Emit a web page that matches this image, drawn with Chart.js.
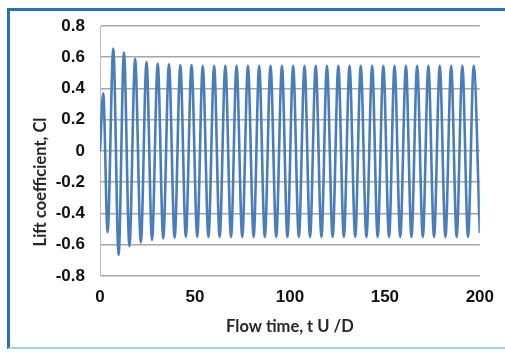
<!DOCTYPE html>
<html>
<head>
<meta charset="utf-8">
<script src="https://cdn.jsdelivr.net/npm/chart.js@4.4.0/dist/chart.umd.min.js"></script>
<style>
  html, body { margin: 0; padding: 0; background: #fff; }
  #wrap { position: relative; width: 505px; height: 352px; }
  #frame {
    position: absolute; left: 7px; top: 8px; width: 498px; height: 341px;
    border-top: 3px solid #2a72b5; border-left: 3px solid #2a72b5;
    border-bottom: 2px solid #a3d4dc; box-sizing: border-box; pointer-events: none;
  }
</style>
</head>
<body>
<div id="wrap">
  <canvas id="liftChart" width="505" height="352"></canvas>
  <div id="frame"></div>
</div>
<script>
// flow time (t U/D) at the extremes of the signal
const flowTime = [
  0, 1.7, 4.0, 7.0, 9.8, 12.6, 15.5, 18.5, 21.5, 24.5, 27.4, 30.4, 33.3,
  36.3, 39.3, 42.3, 45.2, 48.2, 51.2, 54.1, 57.1, 60.1, 63.0, 66.0, 69.0,
  71.9, 74.9, 77.9, 80.9, 83.8, 86.8, 89.8, 92.8, 95.8, 98.7, 101.7, 104.7,
  107.7, 110.6, 113.6, 116.6, 119.5, 122.5, 125.5, 128.4, 131.4, 134.4,
  137.3, 140.3, 143.3, 146.2, 149.2, 152.2, 155.1, 158.1, 161.1, 164.0,
  167.0, 170.0, 172.9, 175.9, 178.9, 181.9, 184.9, 187.8, 190.8, 193.8,
  196.8, 200
];
// lift coefficient at those times
const liftCoeff = [
  0, 0.37, -0.52, 0.655, -0.665, 0.63, -0.61, 0.59, -0.585, 0.57, -0.57, 0.56, -0.56,
  0.555, -0.555, 0.55, -0.55, 0.55, -0.55, 0.545, -0.55, 0.545, -0.55, 0.545, -0.55,
  0.545, -0.55, 0.545, -0.55, 0.545, -0.55, 0.545, -0.55, 0.545, -0.55, 0.545, -0.55,
  0.545, -0.55, 0.545, -0.55, 0.545, -0.55, 0.545, -0.55, 0.545, -0.55,
  0.545, -0.55, 0.545, -0.55, 0.545, -0.55, 0.545, -0.55, 0.545, -0.55,
  0.545, -0.55, 0.545, -0.55, 0.545, -0.55, 0.545, -0.55, 0.545, -0.55,
  0.545, -0.525
];
const xTicks = [0, 50, 100, 150, 200];
const yTicks = [-0.8, -0.6, -0.4, -0.2, 0, 0.2, 0.4, 0.6, 0.8];

const xTitle = 'Flow time, t U /D';
const yTitle = 'Lift coefficient, Cl';

const points = flowTime.map((t, i) => ({ x: t, y: liftCoeff[i] }));

// y title sits lower than the plot centre in the original, so draw it by hand
const yTitlePlugin = {
  id: 'yTitle',
  afterDraw(chart) {
    const ctx = chart.ctx;
    ctx.save();
    ctx.translate(41, 182);
    ctx.rotate(-Math.PI / 2);
    ctx.font = 'bold 16.5px Lato';
    ctx.fillStyle = '#262626';
    ctx.textAlign = 'center';
    ctx.textBaseline = 'middle';
    ctx.fillText(yTitle, 0, 0);
    ctx.restore();
  }
};

new Chart(document.getElementById('liftChart').getContext('2d'), {
  type: 'line',
  data: {
    datasets: [{
      data: points,
      borderColor: '#4a7ebb',
      borderWidth: 2.6,
      pointRadius: 0,
      cubicInterpolationMode: 'monotone',
      fill: false
    }]
  },
  options: {
    responsive: false,
    animation: false,
    events: [],
    layout: { padding: { top: 26, right: 23, bottom: 0, left: 0 } },
    plugins: { legend: { display: false }, tooltip: { enabled: false } },
    scales: {
      x: {
        type: 'linear',
        min: 0, max: 200,
        afterFit: s => { s.height = 76; },
        afterBuildTicks: s => { s.ticks = xTicks.map(v => ({ value: v })); },
        grid: { display: false, drawTicks: false },
        border: { display: false },
        ticks: {
          padding: 11,
          color: '#111',
          font: { family: 'Liberation Sans', size: 17, weight: 'bold' }
        },
        title: {
          display: true,
          text: xTitle,
          color: '#262626',
          font: { family: 'Lato', size: 16.5, weight: 'bold' },
          padding: { top: 4, bottom: 15 }
        }
      },
      y: {
        min: -0.8, max: 0.8,
        afterFit: s => { s.width = 100; },
        afterBuildTicks: s => { s.ticks = yTicks.map(v => ({ value: v })); },
        grid: { color: '#a6a6a6', lineWidth: 1.6, drawTicks: false },
        border: { display: true, color: '#bdbdbd', width: 1 },
        ticks: {
          padding: 15,
          color: '#111',
          font: { family: 'Liberation Sans', size: 17, weight: 'bold' },
          callback: v => String(Number(v.toFixed(1)))
        }
      }
    }
  },
  plugins: [yTitlePlugin]
});
</script>
</body>
</html>
